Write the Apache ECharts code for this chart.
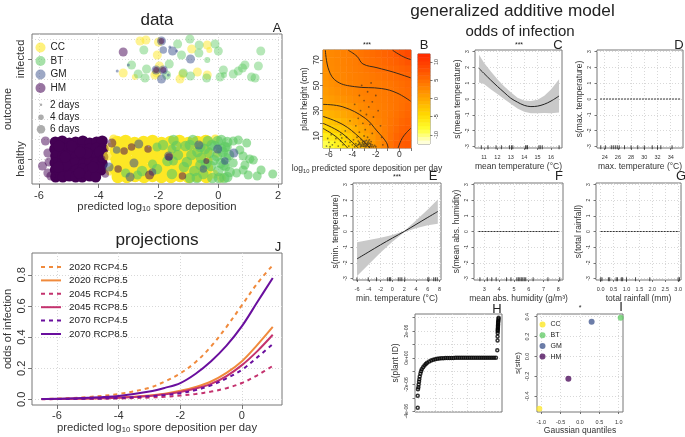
<!DOCTYPE html>
<html><head><meta charset="utf-8">
<script src="https://cdn.jsdelivr.net/npm/echarts@6/dist/echarts.min.js"></script>
<style>html,body{margin:0;padding:0;background:#fff}#c{width:685px;height:437px}</style></head>
<body><div id="c"></div>
<script>
// ---------- panel A: [x, jittered outcome, days]
const ccInfected=[[-2.62,1.18,6],[-2.42,1.19,6],[-2,1.17,6],[-2.04,1.04,6],[-.89,1.1,6],[-.37,1.14,6],[-.3,1.09,4],[-3.18,.86,6],[-1.97,.93,6],[-2.12,.84,6],[-2.79,.82,4],[-1.28,.8,6],[-1.19,.85,6],[-.7,.87,6],[-.37,.84,6],[-2.06,.86,6]];
const btInfected=[[-.95,1.2,6],[-1.36,1.15,6],[-.11,1.15,6],[-.64,1.14,6],[-2.49,1.09,6],[-1.23,1.04,6],[-.65,1.06,6],[0,1.08,6],[1.42,1.08,6],[-.37,.99,4],[-1.64,.95,6],[-2.9,.94,6],[-2.4,.9,6],[-2.68,.85,6],[-2.45,.81,6],[-1.17,.86,6],[-.93,.83,6],[-.39,.81,6],[.06,.82,6],[.17,.89,6],[.5,.85,6],[.67,.88,6],[.89,.94,6],[.81,.91,6],[1.34,.93,6],[1.11,.82,6],[1.23,.81,6],[-1.73,.84,6],[.19,.84,4]];
const gmInfected=[[-1.9,1.18,6],[-1.84,1.09,5],[-1.53,1.08,6],[-.93,1,6],[-1.9,.8,6],[-2.08,.89,6],[-1.84,.89,6],[-1.62,1.12,2],[-1.39,1.08,2],[-3.38,.88,2],[-1.67,.84,2],[-3.01,.94,2]];
const hmInfected=[[-3.18,1.07,6],[-1.9,1.18,4],[-2.08,.89,4],[-1.84,.89,4]];
// healthy cloud, individual marks
const ccHealthy=[[-3.5,.2,6],[-3.62,-.12,6],[-3.7,.03,6],[-3.6,.12,6],[-.1,.2,6],[-.15,-.15,6],[.1,-.19,6],[-.05,.05,5]];
const btHealthy=[[.5,.18,6],[.67,.19,6],[.95,.16,6],[.72,.09,6],[.83,.03,6],[1.17,-.01,6],[.5,-.04,6],[.89,-.06,6],[1,-.16,6],[1.43,-.11,6],[1.82,-.15,6],[1.3,-.17,6],[.61,-.14,6],[.83,-.11,6],[1.05,0,6],[.3,.12,6],[.25,-.08,6],[-2.7,-.16,6],[-3.1,-.14,6],[-2.2,-.05,6],[-1.5,-.02,6],[-2.05,.12,6],[-1.55,.1,6]];
const gmHealthy=[[.52,.06,6],[-2.66,.15,6],[-1.66,.03,6],[-.65,.14,6],[-.02,.1,6],[-2.82,-.04,6],[-2.95,-.18,6],[-2.2,-.13,5],[-3.65,-.08,6],[-3.4,.09,5],[-.5,-.1,5],[.22,-.02,5]];
const hmHealthy=[[-5.88,-.07,6],[-5.7,-.14,6],[-5.6,-.17,6],[-5.78,.18,6],[-5.7,.06,6],[-5.66,-.03,6],[-2.3,-.16,6],[-3.35,-.1,5],[-3.56,.16,6],[-3.9,0,5],[-2.35,.1,5],[-1.2,-.17,5],[-2.9,.12,5],[-1.65,.02,5],[-.4,-.02,4],[-3.78,-.15,5],[-3.15,.08,5]];
const hmDense=[[-5.45,.17],[-5.22,.18],[-4.98,.16],[-4.77,.17],[-4.53,.18],[-4.3,.16],[-4.07,.17],[-3.88,.18],[-5.47,.1],[-5.23,.09],[-5,.11],[-4.75,.1],[-4.52,.09],[-4.31,.1],[-4.08,.11],[-3.85,.1],[-5.44,.03],[-5.21,.03],[-5.01,.04],[-4.76,.02],[-4.54,.03],[-4.29,.04],[-4.06,.03],[-3.86,.02],[-5.46,-.04],[-5.24,-.05],[-4.99,-.03],[-4.78,-.04],[-4.51,-.05],[-4.3,-.03],[-4.09,-.04],[-3.88,-.05],[-5.45,-.11],[-5.22,-.1],[-5,-.12],[-4.75,-.11],[-4.53,-.1],[-4.32,-.11],[-4.08,-.12],[-3.92,-.11],[-5.44,-.18],[-5.2,-.18],[-4.98,-.17],[-4.77,-.18],[-4.55,-.18],[-4.3,-.17],[-4.1,-.18],[-5.1,-.06],[-4.4,.06],[-4.9,.13],[-4.65,-.14],[-5.33,.13],[-5.35,-.08],[-3.97,.07],[-3.98,-.08],[-4.62,.07],[-5.12,.02],[-4.19,-.08]];
const ccDense=[[-3.38,.17],[-3.1,.18],[-2.8,.16],[-2.5,.17],[-2.2,.18],[-1.9,.16],[-1.6,.17],[-1.3,.18],[-1,.16],[-.7,.17],[-.42,.18],[-3.42,.08],[-3.12,.07],[-2.82,.09],[-2.5,.08],[-2.18,.07],[-1.92,.09],[-1.6,.08],[-1.28,.07],[-1.02,.09],[-.7,.08],[-.4,.07],[-3.4,-.01],[-3.08,0],[-2.78,-.02],[-2.52,0],[-2.2,-.01],[-1.9,0],[-1.62,-.02],[-1.3,0],[-1,-.01],[-.72,0],[-.4,-.02],[-3.44,-.1],[-3.1,-.09],[-2.8,-.11],[-2.5,-.1],[-2.22,-.09],[-1.88,-.11],[-1.6,-.1],[-1.3,-.09],[-.98,-.11],[-.7,-.1],[-.38,-.09],[-3.36,-.18],[-3.06,-.18],[-2.78,-.17],[-2.48,-.18],[-2.2,-.17],[-1.9,-.18],[-1.58,-.18],[-1.28,-.17],[-1,-.18],[-.7,-.17],[-.4,-.18],[-3.25,.13],[-2.65,.03],[-2.05,.13],[-1.45,.03],[-.85,.13],[-3.25,-.05],[-2.65,-.14],[-2.05,-.05],[-1.45,-.14],[-.85,-.05]];
const btDense=[[-1.85,.14],[-1.5,.19],[-1.1,.13],[-.85,.19],[-.6,.12],[-.35,.18],[-.12,.13],[.1,.19],[.3,.17],[-1.7,-.02],[-1.35,.04],[-.9,.04],[-.58,.01],[-.3,.06],[-.05,.03],[.15,.07],[.36,.04],[-2.05,-.1],[-1.55,-.15],[-1.15,-.08],[-.8,-.12],[-.5,-.15],[-.25,-.07],[0,-.12],[.18,-.06],[.38,-.13],[-.95,-.19],[-.2,-.19],[.2,-.19],[-2.55,-.12],[-1.4,.13],[-.7,.07],[-.15,-.01],[.08,-.04],[-.45,.1],[.25,.01],[-1.05,-.03],[-.02,.18],[.22,.12],[-.22,.14],[.1,.1],[-.42,-.05],[.3,-.18],[.02,-.19],[-.6,-.06],[-.72,-.19],[-.95,.14]];
// ---------- panel B: 15 columns, 13 rows
const heatX=['-6.25','-5.75','-5.25','-4.75','-4.25','-3.75','-3.25','-2.75','-2.25','-1.75','-1.25','-0.75','-0.25','0.25','0.75'];
const heatY=['3','9','15','21','27','33','39','45','51','57','63','69','75'];
const heatRows=[
[-9,-8,-6.8,-5.5,-4.2,-2.8,-1.4,-.1,1.2,2.4,3.5,5,6.2,7,7.2],
[-6.5,-5.8,-5,-4,-3,-1.8,-.7,.4,1.5,2.6,3.6,4.9,6,6.7,7],
[-4.5,-3.8,-3.2,-2.5,-1.6,-.8,.1,1,2,2.9,3.7,4.7,5.6,6.3,6.7],
[-2.8,-2.3,-1.7,-1,-.3,.3,1,1.8,2.6,3.2,3.8,4.5,5.2,5.9,6.4],
[-1.2,-.8,-.3,.1,.7,1.3,1.9,2.5,3.1,3.5,3.9,4.3,4.9,5.5,6],
[0,.3,.7,1.1,1.6,2.1,2.6,3,3.4,3.7,4,4.3,4.7,5.2,5.7],
[.8,1.2,1.6,2,2.4,2.8,3.1,3.4,3.7,3.9,4.1,4.4,4.7,5.1,5.5],
[1.3,1.8,2.2,2.6,2.9,3.2,3.5,3.7,3.9,4,4.2,4.5,4.8,5.2,5.6],
[1.7,2.2,2.6,3,3.3,3.5,3.7,3.9,4,4.1,4.3,4.6,5,5.4,5.8],
[2,2.5,2.9,3.2,3.5,3.7,3.9,4.1,4.3,4.6,4.9,5.2,5.5,5.8,6.2],
[2.2,2.7,3,3.3,3.6,3.9,4.1,4.4,4.8,5.2,5.4,5.7,6,6.4,6.8],
[2.4,2.8,3.1,3.4,3.7,4,4.4,4.9,5.2,5.5,5.8,6.2,6.6,7.1,7.7],
[2.5,2.9,3.2,3.5,3.8,4.2,4.7,5.1,5.5,5.8,6.2,6.6,7.2,8,8.8]];
const contours=[
[[-.57,77.8],[-.1,75],[.5,72],[.97,70.5]],
[[-4.35,77.8],[-3.6,73],[-3.1,67],[-1.9,64],[-.5,60.5],[.97,56]],
[[-6.3,77.8],[-6,62],[-5.3,53],[-3.8,49],[-1.5,47.5],[-.2,44],[.97,37.5]],
[[-6.5,35],[-4.8,33],[-2.9,24],[-1.9,14],[-1.1,5],[-.95,.5]],
[[-.1,.5],[.3,9],[.97,16]],
[[-6.5,25.5],[-4.8,19],[-3.4,9],[-2.5,.5]],
[[-6.5,20],[-5.1,13.5],[-4,5],[-3.5,.5]],
[[-6.5,16],[-5.4,9.5],[-4.4,.5]]];
const sporeDots=[[-6,5],[-5.7,3],[-5.4,8],[-5.2,2],[-5,6],[-4.8,3],[-4.5,9],[-4.3,2],[-4.2,5],[-4,3],[-3.9,7],[-3.8,1.5],[-3.7,4],[-3.6,2.5],[-3.5,6],[-3.45,3.5],[-3.4,5],[-3.3,1.5],[-3.25,7],[-3.2,3],[-3.15,4.5],[-3.1,2],[-3.05,6],[-3,3],[-2.95,5],[-2.9,1.5],[-2.85,4],[-2.8,6.5],[-2.75,2.5],[-2.7,5],[-2.65,3.5],[-2.6,1.5],[-2.55,7],[-2.5,4],[-2.45,2.5],[-2.4,5.5],[-2.3,3],[-2.2,1.5],[-2.1,2.5],[-2,1.5],[-3.6,9],[-3,10],[-2.7,9],[-3.4,13],[-2.9,15],[-2.3,12],[-3.7,18],[-3.1,20],[-2.5,19],[-3.5,24],[-2.8,27],[-2.2,25],[-3.3,30],[-2.6,33],[-3.8,35],[-3,38],[-2.3,37],[-3.4,42],[-2.7,45],[-2,42],[-3.2,50],[-2.4,52],[-1.8,30],[-1.6,18],[-4.6,14],[-4.2,22],[-1.5,9],[-5.8,11],[-5,11],[-6.2,2],[-1.4,3],[-3.35,4.2],[-3.12,5.4],[-2.98,4],[-2.88,2.6],[-2.72,3.8],[-2.58,4.6],[-3.22,2],[-3.02,1.8],[-2.78,1.6],[-2.5,1.5],[-2.35,1.5],[-3.5,3],[-3.32,3],[-3.08,3.6],[-2.92,6],[-2.62,6],[-2.42,3.6],[-5.5,5],[-6.1,8],[-5.9,1.5],[-4.9,8.5],[-4.6,5.5]];
// ---------- panels C to G: smooths and rugs
const cX=[10.63,11,11.5,12,12.5,13,13.5,14,14.5,15,15.5,16,16.6];
const cFit=[1.93,1.62,1.2,.8,.42,.05,-.2,-.4,-.48,-.45,-.33,-.13,.19];
const cHi=[2.8,2.3,1.75,1.25,.8,.42,.08,-.1,-.12,-.05,.2,.6,1.25];
const cLo=[1.05,.95,.62,.32,0,-.3,-.6,-.8,-.9,-.9,-.88,-.9,-.85];
const cRug=[10.8,11.3,11.9,12.3,12.9,13.05,13.15,14.1,14.2,14.25,15.1,15.2,15.35,16.6];
const dRug=[23.4,24.1,25,25.3,25.6,25.9,26.2,27,28,29,30,31.2,32,32.5,34.2];
const eX=[-6,-4,-2,0,2,4,6,7.7];
const eFit=[-1.75,-1.3,-.85,-.42,0,.45,.9,1.28];
const eHi=[-.68,-.55,-.4,-.22,.03,.7,1.4,2.05];
const eLo=[-2.85,-2.1,-1.35,-.65,-.05,.2,.4,.5];
const eRug=[-6,-4.1,-2.7,-.8,-.5,-.3,1,1.3,1.6,2.1,6,6.2,7,7.3,7.6];
const fRug=[2.7,3.2,3.5,3.8,4.5,4.8,5.2,5.3,5.4,5.5,5.6,5.7,5.8,6.3,7.3,8.1];
const gRug=[0,.05,.3,.35,.6,.65,.8,.85,1,1.35,1.9,3,3.05];
// ---------- panel H (units of 1e-6)
const hX=[-3,-3,-2.98,-2.95,-2.93,-2.9,-2.88,-2.85,-2.8,-2.75,-2.7,-2.6,-2.5,-2.4,-2.3,-2.15,-2,-1.85,-1.7,-1.55,-1.4,-1.25,-1.1,-.95,-.8,-.65,-.5,-.35,-.2,-.05,.1,.25,.4,.55,.7,.85,1,1.15,1.3,1.45,1.6,1.75,1.9,2.05,2.2,2.35,2.5,2.65,2.8,2.9,2.92,2.92,2.93,2.93,2.94,2.94,2.95,2.95,2.96,2.96,2.97,2.98,2.99,3];
const hY=[-3.75,-2.85,-2.35,-2.2,-2,-1.8,-1.6,-1.4,-1.2,-1,-.85,-.7,-.58,-.46,-.37,-.28,-.2,-.14,-.1,-.07,-.05,-.04,-.03,-.02,-.02,-.01,-.01,-.01,0,0,0,0,0,0,0,0,0,0,0,0,0,0,0,0,0,0,0,0,0,.57,1.3,1.6,1.85,2,2.1,2.2,2.3,2.4,2.5,2.6,2.7,2.8,2.9,3];
// ---------- panel I
const siteCC=[[-1.05,-.525]],siteBT=[[1.05,.39]],siteGM=[[.3,.35]],siteHM=[[-.3,-.225]];
// ---------- panel J
const projX=[-6.5,-6,-5,-4,-3,-2.5,-2,-1.5,-1,-.5,0,.5,1];
const p2020r45=[.003,.005,.015,.035,.075,.115,.167,.24,.34,.466,.605,.745,.862];
const p2020r85=[.002,.003,.006,.012,.025,.037,.055,.08,.115,.17,.245,.35,.465];
const p2045r45=[.001,.002,.004,.006,.012,.017,.025,.035,.05,.072,.105,.155,.215];
const p2045r85=[.002,.003,.006,.011,.022,.033,.048,.07,.1,.15,.22,.31,.415];
const p2070r45=[.002,.002,.005,.009,.02,.028,.04,.06,.09,.135,.19,.27,.355];
const p2070r85=[.003,.004,.01,.022,.05,.074,.105,.165,.245,.345,.47,.625,.78];
const projNames=['2020 RCP4.5','2020 RCP8.5','2045 RCP4.5','2045 RCP8.5','2070 RCP4.5','2070 RCP8.5'];
const projData=[p2020r45,p2020r85,p2045r45,p2045r85,p2070r45,p2070r85];
const barLevels=[-12,-11,-10,-9,-8,-7,-6,-5,-4,-3,-2,-1,0,1,2,3,4,5,6,7,8,9,10,11,12];
const spanD=[23.3,35.5],spanF=[2.6,8.1],spanG=[0,3.05];

// ---------- styles and helpers
const FONT='"Liberation Sans",Arial,sans-serif', TXT='#333';
const C={CC:'#fde725',BT:'#5ec962',GM:'#3b528b',HM:'#440154'};
const grids=[],xAxes=[],yAxes=[],series=[];
function axis(o,dim){
  const a={type:'value',min:o.range[0],max:o.range[1],gridIndex:grids.length-1,
    axisLine:{show:false,onZero:false},
    axisTick:{show:o.tickLen!==0,length:o.tickLen||3,customValues:o.ticks,lineStyle:{color:'#555',width:.8}},
    splitLine:{show:!!o.grid,lineStyle:{color:'#d8d8d8',type:[1,2],width:1}},
    axisLabel:{show:!!o.labels,customValues:o.labels,fontFamily:FONT,fontSize:o.fs||5.5,color:TXT,
      rotate:dim==='y'?90:0,margin:o.margin||3,formatter:o.fmt||(v=>String(v)),hideOverlap:false},
    nameMoveOverlap:false,silent:true};
  if(o.name){a.name=o.name;a.nameLocation='center';a.nameGap=o.gap;
    a.nameTextStyle={fontFamily:FONT,fontSize:o.nameFs||8.5,color:TXT,rich:{s:{fontSize:(o.nameFs||8.5)*.68,verticalAlign:'bottom',padding:[5,0,0,0],fontFamily:FONT,color:TXT}}};}
  if(o.pos)a.position=o.pos;
  return a;
}
function panel(r,xo,yo){
  grids.push({left:r[0],top:r[1],width:r[2]-r[0],height:r[3]-r[1],show:true,borderColor:'#777',borderWidth:1,backgroundColor:'transparent'});
  xAxes.push(axis(xo,'x'));yAxes.push(axis(yo,'y'));
  return {xAxisIndex:xAxes.length-1,yAxisIndex:yAxes.length-1};
}
function band(ax,xs,hi,lo){
  series.push({type:'custom',...ax,coordinateSystem:'cartesian2d',silent:true,clip:true,z:1,data:[[xs[0],lo[0]]],
    renderItem:(p,api)=>{const pts=[];
      xs.forEach((x,i)=>pts.push(api.coord([x,hi[i]])));
      for(let i=xs.length-1;i>=0;i--)pts.push(api.coord([xs[i],lo[i]]));
      return {type:'polygon',shape:{points:pts},style:{fill:'#c9c9c9'}};}});
}
function curve(ax,xs,ys,st,extra){
  series.push(Object.assign({type:'line',...ax,data:xs.map((x,i)=>[x,ys[i]]),showSymbol:false,symbol:'none',smooth:.35,silent:true,z:3,lineStyle:st},extra||{}));
}
function rug(ax,vals,y){
  series.push({type:'scatter',...ax,data:vals.map(v=>[v,y]),symbol:'rect',symbolSize:[1,4],itemStyle:{color:'#222'},silent:true,z:4,clip:false});
}
function flat(ax,span){curve(ax,span,[0,0],{color:'#333',width:1,type:[2,1]},{smooth:false});}
const yS={range:[-3.1,3.1],ticks:[-3,-2,-1,0,1,2,3],labels:[-3,-2,-1,0,1,2,3],grid:true,fs:5,tickLen:2.5,margin:5};
const sub=(pre,post)=>pre+'{s|10}'+post;

// ---------- A
const aAx=panel([32,34,282,184],
  {range:[-6.23,2.13],ticks:[-6,-4,-2,0,2],labels:[-6,-4,-2,0,2],grid:true,fs:11,tickLen:4,margin:6,name:sub('predicted log',' spore deposition'),gap:16,nameFs:11.3},
  {range:[-.25,1.25],ticks:[0,1],labels:[0,1],fs:11,tickLen:4,margin:6,fmt:v=>v===0?'healthy':'infected',name:'outcome',gap:19,nameFs:11});
// dotted horizontal guide lines of panel A
yAxes.push({type:'value',gridIndex:0,min:-.25,max:1.25,position:'left',axisLine:{show:false},axisLabel:{show:false},
  axisTick:{show:false,customValues:[0,.2,.4,.6,.8,1,1.2]},splitLine:{show:true,lineStyle:{color:'#d8d8d8',type:[1,2]}},silent:true});
const sizeOf={2:3,4:6,5:7.5,6:9};
const spark=(name,d,op)=>series.push({type:'scatter',name,...aAx,data:d,symbolSize:v=>sizeOf[v[2]],itemStyle:{color:C[name],opacity:op},silent:true,z:2});
const dense=(name,d,sz,op)=>series.push({type:'scatter',name,...aAx,data:d,symbolSize:sz,itemStyle:{color:C[name],opacity:op},silent:true,z:2});
dense('HM',hmDense,11,1);
dense('CC',ccDense,12.5,1);
spark('CC',ccHealthy,.7);spark('CC',ccInfected,.5);
dense('BT',btDense,10.5,.62);
spark('BT',btHealthy,.6);spark('BT',btInfected,.45);
spark('GM',gmHealthy,.55);spark('GM',gmInfected,.5);
spark('HM',hmHealthy,.5);spark('HM',hmInfected,.5);
['2 days','4 days','6 days'].forEach(n=>series.push({type:'scatter',name:n,...aAx,data:[],itemStyle:{color:'#999'}}));

// ---------- B
const bAx=panel([323,50,411,148],
  {range:[-6.5,1],ticks:[-6,-5,-4,-3,-2,-1,0,1],labels:[-6,-4,-2,0],fs:8.5,tickLen:3,margin:2,name:sub('log',' predicted spore deposition per day'),gap:15,nameFs:8.5},
  {range:[.5,78],ticks:[10,20,30,40,50,60,70],labels:[10,30,50,70],fs:8.5,tickLen:3,margin:2,name:'plant height (cm)',gap:14,nameFs:8.5});
xAxes.push({type:'category',gridIndex:1,data:heatX,show:false,boundaryGap:true});
yAxes.push({type:'category',gridIndex:1,data:heatY,show:false,boundaryGap:true});
const heatIdx=series.length;
const heatData=[];heatRows.forEach((row,j)=>row.forEach((v,i)=>heatData.push([i,j,v])));
series.push({type:'heatmap',xAxisIndex:xAxes.length-1,yAxisIndex:yAxes.length-1,data:heatData,silent:true,z:1,progressive:0});
series.push({type:'scatter',...bAx,data:sporeDots,symbolSize:1.8,itemStyle:{color:'#222',opacity:.55},silent:true,z:3});
contours.forEach(c=>series.push({type:'line',...bAx,data:c,smooth:.4,symbol:'none',lineStyle:{color:'#3a2a1a',width:1},silent:true,z:4}));
// colour bar
panel([418,54,430,144],{range:[0,1],tickLen:0},
  {range:[-12.5,12.2],ticks:[-10,-5,0,5,10],labels:[-10,-5,0,5,10],fs:5.5,tickLen:2.5,margin:3,pos:'right'});
const gi=grids.length-1;
xAxes.push({type:'category',gridIndex:gi,data:['c'],show:false});
yAxes.push({type:'category',gridIndex:gi,data:barLevels.map(String),show:false});
const barIdx=series.length;
series.push({type:'heatmap',xAxisIndex:xAxes.length-1,yAxisIndex:yAxes.length-1,data:barLevels.map((v,j)=>[0,j,v]),silent:true,progressive:0});

// ---------- C
const smallX={grid:true,fs:5.5,tickLen:2,margin:6,gap:14};
const cAx=panel([475,50,562,148],{...smallX,range:[10.33,16.82],ticks:[11,12,13,14,15,16],labels:[11,12,13,14,15,16],name:'mean temperature (°C)'},{...yS,name:'s(mean temperature)',gap:13});
band(cAx,cX,cHi,cLo);curve(cAx,cX,cFit,{color:'#222',width:1});rug(cAx,cRug,-3.05);
// ---------- D
const dAx=panel([597,50,683,148],{...smallX,range:[22.83,35.86],ticks:[24,26,28,30,32,34],labels:[24,26,28,30,32,34],name:'max. temperature (°C)'},{...yS,name:'s(max. temperature)',gap:13});
flat(dAx,spanD);rug(dAx,dRug,-3.05);
// ---------- E
const eAx=panel([353,183,441,280],{...smallX,range:[-6.68,8.24],ticks:[-6,-4,-2,0,2,4,6,8],labels:[-6,-4,-2,0,2,4,6,8],name:'min. temperature (°C)'},{...yS,name:'s(min. temperature)',gap:13});
band(eAx,eX,eHi,eLo);curve(eAx,eX,eFit,{color:'#222',width:1});rug(eAx,eRug,-3.05);
// ---------- F
const fAx=panel([474,183,563,280],{...smallX,range:[2.3,8.32],ticks:[3,4,5,6,7,8],labels:[3,4,5,6,7,8],name:'mean abs. humidity (g/m³)'},{...yS,name:'s(mean abs. humidity)',gap:13});
flat(fAx,spanF);rug(fAx,fRug,-3.05);
// ---------- G
const gAx=panel([596,183,683,280],{...smallX,range:[-.18,3.11],ticks:[0,.5,1,1.5,2,2.5,3],labels:[0,.5,1,1.5,2,2.5,3],fmt:v=>v.toFixed(1),name:'total rainfall (mm)'},{...yS,name:'s(total rainfall)',gap:13});
flat(gAx,spanG);rug(gAx,gRug,-3.05);
// ---------- H
const hAx=panel([415,314,502,412],{range:[-3.2,3.25],ticks:[-1.71,-.47,.7,1.94],grid:true,tickLen:0},
  {range:[-4.06,3.28],ticks:[-4,-3,-2,-1,0,1,2,3],labels:[-4,-2,0,2],grid:true,fs:5,tickLen:2.5,margin:6,
   fmt:v=>v===0?'0e+00':(v<0?'-':'')+Math.abs(v)+'e-06',name:'s(plant ID)',gap:15,nameFs:8.5});
series.push({type:'scatter',...hAx,data:hX.map((x,i)=>[x,hY[i]]),symbolSize:3,itemStyle:{color:'transparent',borderColor:'#000',borderWidth:1.5},silent:true,z:3});
// ---------- I
const iAx=panel([537,314,623,412],{range:[-1.11,1.11],ticks:[-1,-.5,0,.5,1],labels:[-1,-.5,0,.5,1],fmt:v=>v.toFixed(1),grid:true,fs:5.5,tickLen:2,margin:7,name:'Gaussian quantiles',gap:14,nameFs:8.5},
  {range:[-.558,.427],ticks:[-.4,-.2,0,.2,.4],labels:[-.4,-.2,0,.2,.4],fmt:v=>v.toFixed(1),grid:true,fs:5.5,tickLen:2.5,margin:7,name:'s(site)',gap:15,nameFs:8});
[['CC',siteCC],['BT',siteBT],['GM',siteGM],['HM',siteHM]].forEach(([n,d])=>series.push({type:'scatter',name:n,...iAx,data:d,symbolSize:6,itemStyle:{color:C[n],opacity:.75},silent:true,z:3}));
// ---------- J
const jAx=panel([32,253,282,405],{range:[-6.81,1.3],ticks:[-6,-4,-2,0],labels:[-6,-4,-2,0],grid:true,fs:11,tickLen:4,margin:5,name:sub('predicted log',' spore deposition per day'),gap:16,nameFs:11.3},
  {range:[-.036,.94],ticks:[0,.2,.4,.6,.8],labels:[0,.2,.4,.6,.8],fmt:v=>v.toFixed(1),grid:true,fs:11,tickLen:4,margin:5,name:'odds of infection',gap:19,nameFs:11});
const jCol=['#f08a3c','#f08a3c','#c4326e','#c4326e','#6a0f9e','#6a0f9e'];
projNames.forEach((n,i)=>curve(jAx,projX,projData[i],{color:jCol[i],width:2,type:i%2?'solid':[4,4]},{name:n,itemStyle:{color:jCol[i]}}));

// ---------- legends
const lt={fontFamily:FONT,fontSize:10,color:'#222'};
const legItem=(n,col,op)=>({name:n,icon:'circle',itemStyle:{color:col,opacity:op}});
const dayLegend=(n,w,top)=>({show:true,orient:'vertical',padding:0,left:41-w/2,top:top-w/2,itemWidth:w,itemHeight:w,selectedMode:false,backgroundColor:'transparent',
  textStyle:{...lt,padding:[0,0,0,50-(41+w/2+5)]},data:[legItem(n,'#999',.8)]});
const legends=[
 {orient:'vertical',padding:0,left:35.5,top:42.5,itemWidth:10,itemHeight:10,itemGap:3.5,selectedMode:false,textStyle:lt,
  data:[legItem('CC',C.CC,.6),legItem('BT',C.BT,.55),legItem('GM',C.GM,.5),legItem('HM',C.HM,.55)]},
 dayLegend('2 days',2.5,101),dayLegend('4 days',5.5,115),dayLegend('6 days',8.5,128.5),
 {orient:'vertical',padding:0,left:539.5,top:321,itemWidth:6,itemHeight:6,itemGap:3.7,selectedMode:false,textStyle:{...lt,fontSize:7},
  data:[legItem('CC',C.CC,.8),legItem('BT',C.BT,.75),legItem('GM',C.GM,.75),legItem('HM',C.HM,.75)]},
 {orient:'vertical',padding:0,left:40,top:262,itemWidth:20,itemHeight:10,itemGap:3.4,selectedMode:false,textStyle:{...lt,fontSize:9.8,padding:[0,0,0,3]},
  data:projNames.map(n=>({name:n,itemStyle:{opacity:0}}))}
];

// ---------- free text
const T=(text,x,y,size,color)=>({type:'text',silent:true,style:{text,x,y,align:'center',verticalAlign:'middle',font:size+'px '+FONT,fill:color||'#222'}});
const texts=[T('data',157,20.5,17),T('projections',157,240,17.2),T('generalized additive model',512.5,11,17.2),T('odds of infection',520,31.5,15),
 T('A',277,28,13),T('B',424,45,13),T('C',558,45,13),T('D',679,45,13),T('E',433,176,13),T('F',559,176,13),T('G',681,176,13),T('H',497,309,13),T('I',621,307,13),T('J',278,247,13),
 T('***',367,45,7),T('***',519,45,7),T('***',397,177,7),T('*',580,308,7)];

const chart=echarts.init(document.getElementById('c'),null,{renderer:'canvas'});
chart.setOption({animation:false,backgroundColor:'#fff',grid:grids,xAxis:xAxes,yAxis:yAxes,series,legend:legends,graphic:{elements:texts},
 visualMap:{show:false,type:'continuous',min:-12.5,max:12.2,dimension:2,seriesIndex:[heatIdx,barIdx],
  inRange:{color:['#fffff0','#ffff30','#ffd800','#ffaa00','#ff7c00','#ff5000','#ff2c00']}}});
</script></body></html>
